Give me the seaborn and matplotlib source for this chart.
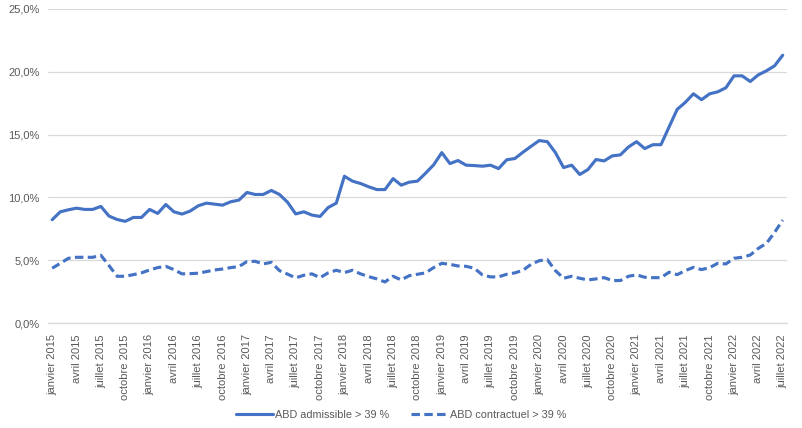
import matplotlib
matplotlib.use("Agg")
import pandas as pd
import seaborn as sns
import matplotlib.pyplot as plt
from matplotlib.ticker import FuncFormatter

mois = ["janvier", "février", "mars", "avril", "mai", "juin", "juillet",
        "août", "septembre", "octobre", "novembre", "décembre"]
annees = [2015, 2016, 2017, 2018, 2019, 2020, 2021, 2022]

# monthly values in %, janvier 2015 -> juillet 2022
admissible = [8.23, 8.86, 9.02, 9.15, 9.05, 9.05, 9.29, 8.52, 8.25, 8.10,
              8.41, 8.41, 9.05, 8.73, 9.44, 8.86, 8.68, 8.92, 9.34, 9.55,
              9.47, 9.39, 9.66, 9.79, 10.40, 10.24, 10.24, 10.56, 10.24, 9.62,
              8.69, 8.86, 8.60, 8.49, 9.20, 9.55, 11.69, 11.30, 11.11, 10.85,
              10.63, 10.63, 11.50, 10.98, 11.22, 11.30, 11.93, 12.60, 13.57, 12.70,
              12.94, 12.57, 12.54, 12.49, 12.57, 12.30, 13.00, 13.10, 13.60, 14.07,
              14.53, 14.44, 13.57, 12.38, 12.57, 11.83, 12.22, 13.02, 12.91, 13.31,
              13.39, 14.02, 14.44, 13.89, 14.20, 14.20, 15.61, 17.01, 17.57, 18.25,
              17.78, 18.25, 18.41, 18.73, 19.68, 19.68, 19.23, 19.76, 20.08, 20.48,
              21.32]
contractuel = [4.37, 4.76, 5.16, 5.24, 5.24, 5.24, 5.40, 4.58, 3.73, 3.73,
               3.86, 4.00, 4.23, 4.42, 4.52, 4.26, 3.92, 3.94, 3.97, 4.10,
               4.23, 4.31, 4.42, 4.50, 4.90, 4.92, 4.71, 4.84, 4.18, 3.90,
               3.60, 3.81, 3.92, 3.62, 4.00, 4.21, 4.02, 4.21, 3.92, 3.70,
               3.52, 3.28, 3.73, 3.44, 3.78, 3.89, 4.00, 4.42, 4.76, 4.68,
               4.55, 4.52, 4.37, 3.84, 3.68, 3.68, 3.89, 4.00, 4.21, 4.68,
               4.97, 5.05, 4.18, 3.57, 3.73, 3.57, 3.44, 3.52, 3.62, 3.39,
               3.39, 3.73, 3.84, 3.65, 3.62, 3.62, 4.05, 3.86, 4.18, 4.44,
               4.26, 4.42, 4.76, 4.71, 5.16, 5.24, 5.42, 5.95, 6.35, 7.22,
               8.20]

labels = [f"{m} {a}" for a in annees for m in mois][:len(admissible)]
df = pd.DataFrame({"idx": range(len(admissible)),
                   "admissible": admissible,
                   "contractuel": contractuel})

sns.set_style("white")
plt.rcParams["font.family"] = ["Liberation Sans", "DejaVu Sans"]

bleu = "#4472C4"
gris = "#D9D9D9"
texte = "#595959"

fig = plt.figure(figsize=(8.02, 4.28), dpi=100)
ax = fig.add_axes([0.06, 0.245, 0.921, 0.734])

sns.lineplot(data=df, x="idx", y="admissible", ax=ax, color=bleu, lw=2.25,
             label="ABD admissible > 39 %")
sns.lineplot(data=df, x="idx", y="contractuel", ax=ax, color=bleu, lw=2.25,
             linestyle=(0, (2.7, 1.4)), label="ABD contractuel > 39 %")

ax.set_ylim(0, 25)
ax.set_yticks([0, 5, 10, 15, 20, 25])
ax.yaxis.set_major_formatter(FuncFormatter(lambda v, p: f"{v:.1f}%".replace(".", ",")))
ax.grid(axis="y", color=gris, lw=0.9)
ax.set_axisbelow(True)

ax.set_xlim(-0.5, len(admissible) - 0.5)
pos = list(range(0, len(admissible), 3))
ax.set_xticks(pos)
ax.set_xticklabels([labels[i] for i in pos], rotation=90)
ax.set_xticks([p - 0.5 for p in pos], minor=True)
ax.tick_params(axis="x", which="major", length=0, pad=8, labelsize=8, colors=texte)
ax.tick_params(axis="x", which="minor", length=4, color=gris, width=0.9)
ax.tick_params(axis="y", length=0, labelsize=8, colors=texte, pad=6)
ax.set_xlabel("")
ax.set_ylabel("")

for s in ["left", "right", "top"]:
    ax.spines[s].set_visible(False)
ax.spines["bottom"].set_color(gris)
ax.spines["bottom"].set_linewidth(0.9)

leg = ax.legend(loc="center", ncol=2, frameon=False,
                fontsize=7.8, handlelength=3.4, columnspacing=2.0,
                handletextpad=0.2)
leg.set_bbox_to_anchor((0.5, 0.03), transform=fig.transFigure)
for t in leg.get_texts():
    t.set_color(texte)

fig.savefig("out.png", dpi=100)
